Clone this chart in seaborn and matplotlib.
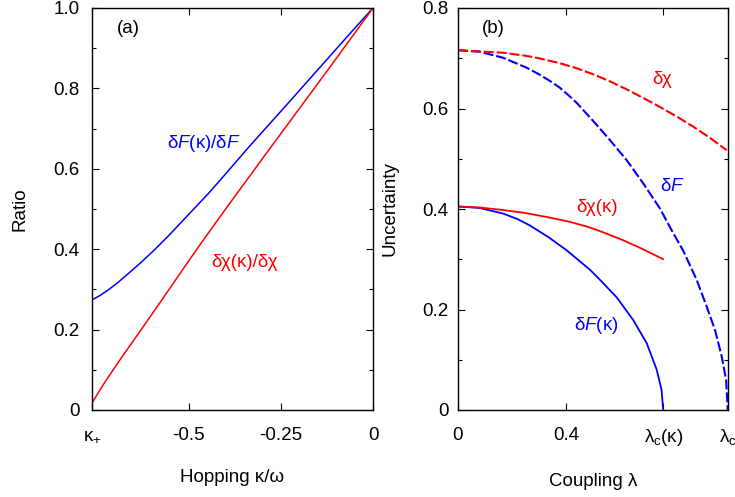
import matplotlib
matplotlib.use("Agg")
import matplotlib.pyplot as plt
from matplotlib.ticker import MultipleLocator
import seaborn as sns

sns.set_theme(style="ticks")
plt.rcParams["font.family"] = ["Liberation Sans", "DejaVu Sans"]
plt.rcParams["mathtext.fontset"] = "custom"
plt.rcParams["mathtext.rm"] = "Liberation Sans"
plt.rcParams["mathtext.it"] = "Liberation Sans:italic"
plt.rcParams["font.size"] = 13.5
plt.rcParams["text.color"] = "black"
plt.rcParams["axes.labelcolor"] = "black"
plt.rcParams["xtick.color"] = "black"
plt.rcParams["ytick.color"] = "black"

FS = 13.5

# ---- panel (a): ratios vs hopping kappa/omega ----
kappa_plus = -0.762
kappa_ratio_F = [-0.762, -0.740, -0.719, -0.692, -0.664, -0.628, -0.592, -0.556,
                 -0.520, -0.484, -0.447, -0.418, -0.334, -0.243, -0.153,
                 -0.062, 0.0]
ratio_F = [0.274, 0.285, 0.298, 0.317, 0.339, 0.368, 0.399, 0.432,
           0.467, 0.502, 0.538, 0.568, 0.657, 0.750, 0.843,
           0.937, 1.0]
kappa_ratio_chi = [-0.762, -0.745, -0.728, -0.706, -0.683, -0.637, -0.592,
                   -0.547, -0.502, -0.456, -0.402, -0.288, -0.198, -0.108, 0.0]
ratio_chi = [0.017, 0.043, 0.068, 0.098, 0.129, 0.189, 0.248,
             0.308, 0.368, 0.428, 0.497, 0.640, 0.752, 0.864, 1.0]
xticks_a = [kappa_plus, -0.5, -0.25, 0.0]
xticklabels_a = [r"κ$_{+}$", "-0.5", "-0.25", "0"]
yticks_a = [0, 0.2, 0.4, 0.6, 0.8, 1.0]
yticklabels_a = ["0", "0.2", "0.4", "0.6", "0.8", "1.0"]

# ---- panel (b): uncertainties vs coupling lambda ----
lam_c_kappa = 0.76
lam_c = 1.0
lam_dF = [0.0, 0.08, 0.167, 0.255, 0.30, 0.34, 0.378, 0.41, 0.44, 0.501, 0.563,
          0.625, 0.686, 0.748, 0.791, 0.835, 0.884, 0.921, 0.952, 0.977, 0.993,
          0.999]
dF = [0.716, 0.713, 0.701, 0.681, 0.668, 0.655, 0.641, 0.626, 0.611, 0.575,
      0.537, 0.497, 0.451, 0.401, 0.358, 0.316, 0.259, 0.206, 0.159, 0.106,
      0.060, 0.0]
lam_dchi = [0.0, 0.167, 0.25, 0.30, 0.378, 0.44, 0.501, 0.563, 0.625, 0.686,
            0.748, 0.81, 0.871, 0.935, 0.995]
dchi = [0.716, 0.711, 0.705, 0.700, 0.690, 0.680, 0.668, 0.654, 0.638, 0.621,
        0.603, 0.584, 0.564, 0.541, 0.517]
lam_dF_k = [0.0, 0.08, 0.167, 0.22, 0.267, 0.335, 0.402, 0.489, 0.526, 0.588,
            0.649, 0.699, 0.736, 0.754, 0.760]
dF_k = [0.405, 0.402, 0.391, 0.380, 0.367, 0.344, 0.318, 0.279, 0.259, 0.224,
        0.179, 0.133, 0.080, 0.040, 0.0]
lam_dchi_k = [0.0, 0.08, 0.167, 0.25, 0.33, 0.41, 0.478, 0.526, 0.611, 0.685, 0.76]
dchi_k = [0.405, 0.403, 0.398, 0.392, 0.384, 0.375, 0.365, 0.356, 0.338, 0.320, 0.300]
xticks_b = [0.0, 0.4, lam_c_kappa, lam_c]
xticklabels_b = ["0", "0.4", r"λ$_\mathrm{c}$(κ)", r"λ$_\mathrm{c}$"]
yticks_b = [0, 0.2, 0.4, 0.6, 0.8]
yticklabels_b = ["0", "0.2", "0.4", "0.6", "0.8"]

BLUE = "#0000ff"
RED = "#ff0000"
DASH = (0, (4.8, 1.4))

fig = plt.figure(figsize=(7.35, 4.97), dpi=100)
ax_a = fig.add_axes([92 / 735, 87 / 497, 281 / 735, 402 / 497])
ax_b = fig.add_axes([458 / 735, 87 / 497, 270 / 735, 402 / 497])

sns.lineplot(x=kappa_ratio_F, y=ratio_F, ax=ax_a, color=BLUE, lw=1.1, sort=False)
sns.lineplot(x=kappa_ratio_chi, y=ratio_chi, ax=ax_a, color=RED, lw=1.1, sort=False)

sns.lineplot(x=lam_dF, y=dF, ax=ax_b, color=BLUE, lw=1.5, linestyle=DASH, sort=False)
sns.lineplot(x=lam_dchi, y=dchi, ax=ax_b, color=RED, lw=1.5, linestyle=DASH, sort=False)
sns.lineplot(x=lam_dF_k, y=dF_k, ax=ax_b, color=BLUE, lw=1.3, sort=False)
sns.lineplot(x=lam_dchi_k, y=dchi_k, ax=ax_b, color=RED, lw=1.3, sort=False)

for ax in (ax_a, ax_b):
    for s in ax.spines.values():
        s.set_visible(True)
        s.set_linewidth(1.0)
        s.set_color("black")
    ax.tick_params(which="both", direction="in", top=True, right=True,
                   color="black", width=0.8)
    ax.tick_params(which="major", length=5, labelsize=FS)
    ax.tick_params(which="minor", length=3)
    ax.tick_params(axis="x", which="both", pad=12)
    ax.yaxis.set_minor_locator(MultipleLocator(0.1))

ax_a.set_xlim(kappa_plus, 0.0)
ax_a.set_ylim(0, 1.0)
ax_a.set_xticks(xticks_a)
ax_a.set_xticklabels(xticklabels_a)
ax_a.set_yticks(yticks_a)
ax_a.set_yticklabels(yticklabels_a)
ax_a.tick_params(axis="y", pad=9)
ax_a.set_xlabel("Hopping κ/ω", labelpad=18, fontsize=FS)
ax_a.set_ylabel("Ratio", labelpad=18, fontsize=FS)
ax_a.text(0.09, 0.97, "(a)", transform=ax_a.transAxes, ha="left", va="top", fontsize=FS)
ax_a.text(-0.46, 0.662, r"δ$\it{F}$(κ)/δ$\it{F}$", color=BLUE, ha="center", va="center",
          fontsize=FS)
ax_a.text(-0.347, 0.366, "δχ(κ)/δχ", color=RED, ha="center", va="center", fontsize=FS)

ax_b.set_xlim(0, lam_c)
ax_b.set_ylim(0, 0.8)
ax_b.set_xticks(xticks_b)
ax_b.set_xticklabels(xticklabels_b)
ax_b.set_yticks(yticks_b)
ax_b.set_yticklabels(yticklabels_b)
ax_b.tick_params(axis="y", pad=7)
ax_b.set_xlabel("Coupling λ", labelpad=18, fontsize=FS)
ax_b.set_ylabel("Uncertainty", labelpad=17, fontsize=FS)
ax_b.text(0.09, 0.97, "(b)", transform=ax_b.transAxes, ha="left", va="top", fontsize=FS)
ax_b.text(0.756, 0.657, "δχ", color=RED, ha="center", va="center", fontsize=FS)
ax_b.text(0.793, 0.444, r"δ$\it{F}$", color=BLUE, ha="center", va="center", fontsize=FS)
ax_b.text(0.515, 0.402, "δχ(κ)", color=RED, ha="center", va="center", fontsize=FS)
ax_b.text(0.511, 0.169, r"δ$\it{F}$(κ)", color=BLUE, ha="center", va="center", fontsize=FS)

fig.savefig("out.png", dpi=100)
